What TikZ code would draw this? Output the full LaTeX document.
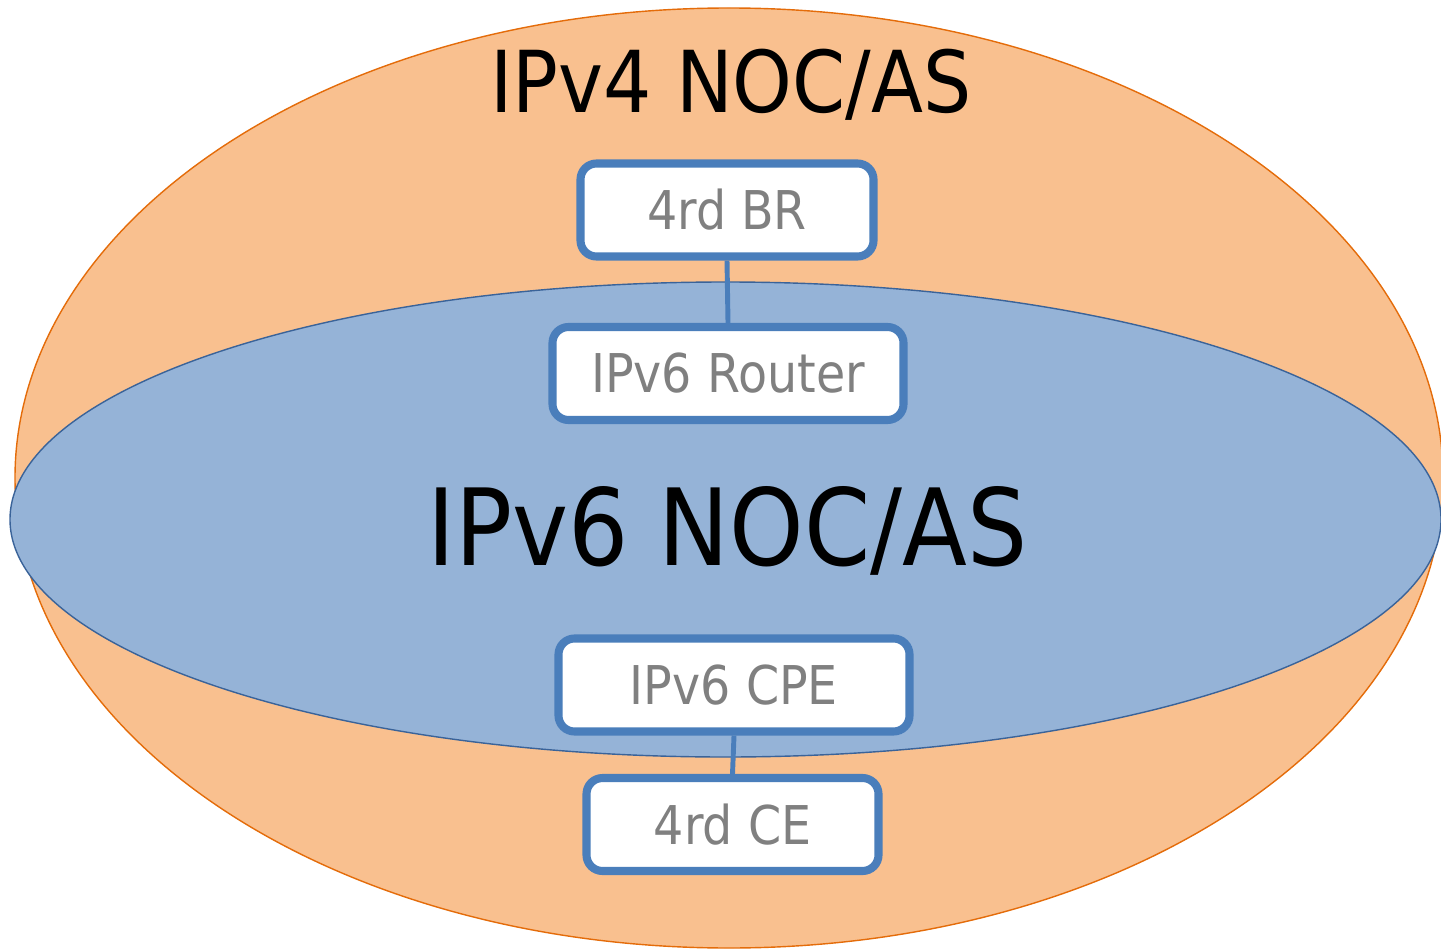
\documentclass[tikz,border=0pt]{standalone}
\usepackage{fontspec}
\setmainfont{DejaVu Sans}[FakeStretch=0.89]
\definecolor{v4fill}{HTML}{F9C08F}
\definecolor{v4line}{HTML}{E46C0A}
\definecolor{v6fill}{HTML}{95B3D7}
\definecolor{v6line}{HTML}{3A6399}
\definecolor{boxline}{HTML}{4A7EBB}
\tikzset{
  devbox/.style={draw=boxline, line width=2.3pt, fill=white, rounded corners=0.16cm,
    text=gray, font=\fontsize{15.2}{18}\selectfont, minimum height=0.93cm, inner sep=0pt},
  link/.style={draw=boxline, line width=1.4pt}
}
\begin{document}
\begin{tikzpicture}
\useasboundingbox (0,0) rectangle (14.41,9.49);
% IPv4 側
\filldraw[fill=v4fill, draw=v4line, line width=0.4pt] (7.29,4.71) ellipse (7.14 and 4.70);
% IPv6 側
\filldraw[fill=v6fill, draw=v6line, line width=0.4pt] (7.255,4.295) ellipse (7.155 and 2.375);
% ラベル
\node[anchor=base, font=\fontsize{24.3}{28}\selectfont] (v4label) at (7.31,8.36) {IPv4 NOC/AS};
\node[anchor=base, font=\fontsize{30.3}{34}\selectfont] (v6label) at (7.275,3.84) {IPv6 NOC/AS};
% 機器
\node[devbox, minimum width=2.93cm] (br) at (7.27,7.39) {4rd BR};
\node[devbox, minimum width=3.51cm] (router) at (7.28,5.755) {IPv6 Router};
\node[devbox, minimum width=3.51cm] (cpe) at (7.34,2.64) {IPv6 CPE};
\node[devbox, minimum width=2.92cm] (ce) at (7.325,1.245) {4rd CE};
% 接続
\draw[link] (br.south) -- (router.north);
\draw[link] (cpe.south) -- (ce.north);
\end{tikzpicture}
\end{document}
